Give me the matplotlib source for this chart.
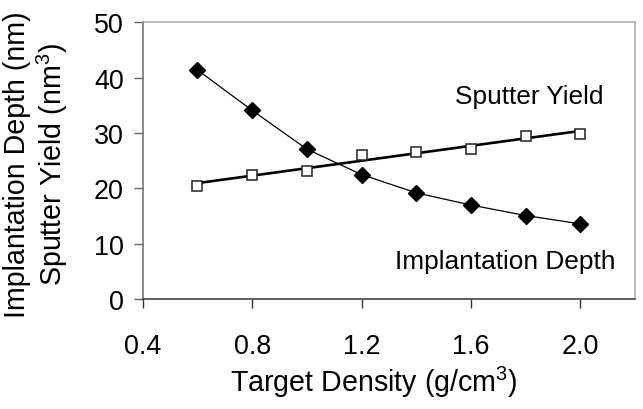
import matplotlib; matplotlib.use("Agg")
import matplotlib.pyplot as plt
import numpy as np

plt.rcParams.update({"font.family": "Liberation Sans", "mathtext.fontset": "custom",
                     "mathtext.rm": "Liberation Sans", "mathtext.it": "Liberation Sans:italic",
                     "mathtext.default": "regular"})

# data
density = [0.6, 0.8, 1.0, 1.2, 1.4, 1.6, 1.8, 2.0]
implant_depth = [41.4, 34.1, 27.1, 22.5, 19.2, 17.0, 15.1, 13.6]
sputter_yield = [20.5, 22.5, 23.2, 26.1, 26.5, 27.2, 29.5, 29.9]
xticks = [0.4, 0.8, 1.2, 1.6, 2.0]
yticks = [0, 10, 20, 30, 40, 50]

fig = plt.figure(figsize=(6.43, 4.10), dpi=100)
ax = fig.add_axes([0.222, 0.268, 0.7656, 0.675])

# linear trendline through the sputter-yield points
k, b = np.polyfit(density, sputter_yield, 1)
xf = np.array([density[0], density[-1]])
ax.plot(xf, k * xf + b, color="black", lw=1.9, zorder=3)
ax.plot(density, sputter_yield, ls="none", marker="s", ms=7.6, mfc="white",
        mec="#222222", mew=1.1, zorder=4)
ax.plot(density, implant_depth, color="black", lw=0.9, marker="D", ms=7.8,
        mfc="black", mec="black", zorder=5)

ax.set_xlim(0.4, 2.2); ax.set_ylim(0, 50)
ax.set_xticks(xticks); ax.set_xticklabels([f"{v:.1f}" for v in xticks])
ax.set_yticks(yticks)
ax.tick_params(axis="x", direction="out", length=6.2, width=1, color="#333333",
               labelsize=19.4, pad=18.5)
ax.tick_params(axis="y", direction="out", length=6.2, width=1, color="#666666",
               labelsize=19.4, pad=7.5)
ax.spines["left"].set_color("#6a6a6a"); ax.spines["bottom"].set_color("#333333")
ax.spines["top"].set_color("#a8a8a8"); ax.spines["right"].set_color("#a8a8a8")
for sp in ax.spines.values(): sp.set_linewidth(1.1)

ax.text(1.815, 35.4, "Sputter Yield", fontsize=18.9, ha="center", va="baseline")
ax.text(1.727, 5.7, "Implantation Depth", fontsize=18.9, ha="center", va="baseline")

fig.text(0.5807, 0.0432, "Target Density (g/cm$^3$)", fontsize=20.6, ha="center", va="baseline")
fig.text(0.057, 0.598, "Implantation Depth (nm)\nSputter Yield (nm$^3$)", fontsize=20.6,
         rotation=90, ha="center", va="center", multialignment="center", linespacing=1.12)

fig.savefig("out.png", dpi=100, facecolor="white")
